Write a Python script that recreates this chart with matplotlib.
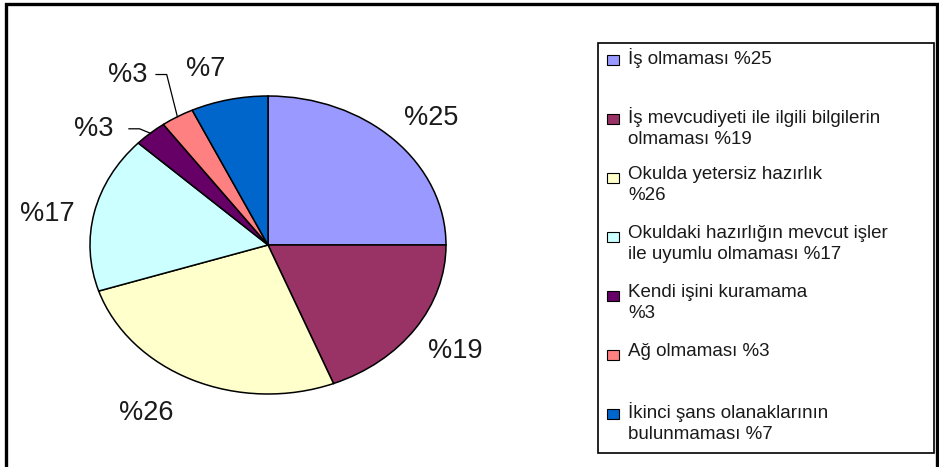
import numpy as np
import matplotlib.pyplot as plt
from matplotlib.patches import Rectangle

plt.rcParams['font.family'] = ['Liberation Sans', 'DejaVu Sans']

# veriler
values = [25, 19, 26, 17, 3, 3, 7]
pct_labels = ["%25", "%19", "%26", "%17", "%3", "%3", "%7"]
legend_labels = [
    "İş olmaması %25",
    "İş mevcudiyeti ile ilgili bilgilerin\nolmaması %19",
    "Okulda yetersiz hazırlık\n%26",
    "Okuldaki hazırlığın mevcut işler\nile uyumlu olmaması %17",
    "Kendi işini kuramama\n%3",
    "Ağ olmaması %3",
    "İkinci şans olanaklarının\nbulunmaması %7",
]
colors = ["#9999FF", "#993366", "#FFFFCC", "#CCFFFF", "#660066", "#FF8080", "#0066CC"]

W, H = 939, 467
fig = plt.figure(figsize=(W / 100, H / 100), dpi=100)

# pasta (elips) - merkez ~ (268, 245) px
rx, ry = 178, 149
cx, cy = 268, 245
ax = fig.add_axes([(cx - 1.25 * rx) / W, (H - cy - 1.25 * ry) / H, 2.5 * rx / W, 2.5 * ry / H])
wedges, _ = ax.pie(values, colors=colors, startangle=90, counterclock=False,
                   wedgeprops=dict(edgecolor="black", linewidth=1.1))
ax.set_aspect('auto')
ax.set_xlim(-1.25, 1.25)
ax.set_ylim(-1.25, 1.25)

# etiket uzakliklari
dists = [1.25, 1.27, 1.32, 1.26, 1.25, 1.39, 1.23]
angle_fix = [-2, 0, -6, 3, 10, 4, 4]
for i, w in enumerate(wedges):
    mid = (w.theta1 + w.theta2) / 2
    ang = np.deg2rad(mid + angle_fix[i])
    lx, ly = dists[i] * np.cos(ang), dists[i] * np.sin(ang)
    ax.text(lx, ly, pct_labels[i], ha="center", va="center", fontsize=19.5, color="#1a1a1a")
    if i in (4, 5):
        ex, ey = np.cos(np.deg2rad(mid)), np.sin(np.deg2rad(mid))
        elbow_x = ex - 0.06
        ax.plot([elbow_x - 0.06, elbow_x, ex], [ly, ly, ey], color="black", lw=0.9,
                clip_on=False)

# lejant kutusu
def fx(px):
    return px / W

def fy(py):
    return 1 - py / H

fig.patches.append(Rectangle((fx(598), fy(453)), fx(934) - fx(598), fy(43) - fy(453),
                             transform=fig.transFigure, fill=False, edgecolor="black",
                             linewidth=1.2))
for i, lab in enumerate(legend_labels):
    y = 59 + 59 * i
    fig.patches.append(Rectangle((fx(607), fy(y + 6)), fx(12), 10 / H,
                                 transform=fig.transFigure, facecolor=colors[i],
                                 edgecolor="black", linewidth=0.8))
    fig.text(fx(628), fy(y - 11), lab, ha="left", va="top", fontsize=13.5,
             linespacing=1.33, color="#1a1a1a")

# dis cerceve
fig.patches.append(Rectangle((fx(6), fy(480)), fx(937) - fx(6), fy(4) - fy(480),
                             transform=fig.transFigure, fill=False, edgecolor="black",
                             linewidth=2.4))

fig.savefig("out.png", dpi=100)
